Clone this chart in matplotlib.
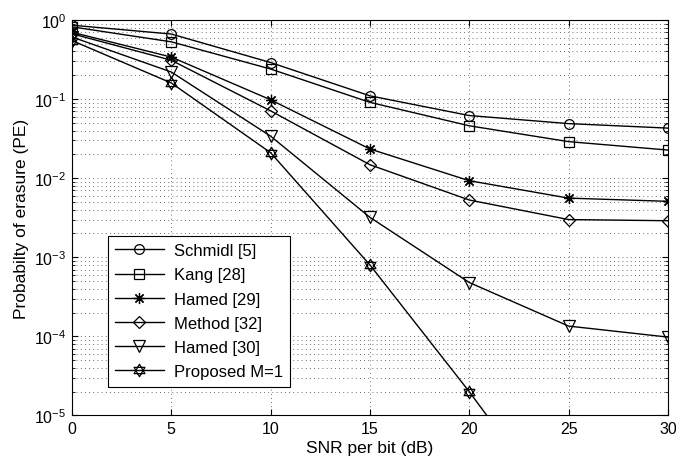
import matplotlib
matplotlib.use("Agg")
from matplotlib import pyplot as plt
from matplotlib.path import Path
from matplotlib.ticker import LogLocator, NullFormatter

snr_db = [0, 5, 10, 15, 20, 25, 30]

schmidl = [0.86, 0.665, 0.29, 0.11, 0.062, 0.049, 0.043]
kang = [0.82, 0.53, 0.24, 0.091, 0.046, 0.029, 0.0227]
hamed_29 = [0.70, 0.34, 0.098, 0.0234, 0.0093, 0.0056, 0.0051]
method_32 = [0.67, 0.31, 0.071, 0.0148, 0.0053, 0.0030, 0.0029]
hamed_30 = [0.61, 0.22, 0.034, 0.0032, 0.00048, 1.35e-4, 9.8e-5]
proposed = [0.55, 0.16, 0.021, 8.0e-4, 2.0e-5, 4.0e-7, 1.0e-8]

# star of david: two overlapping triangles
hexagram = Path(
    [(0, 1), (0.866, -0.5), (-0.866, -0.5), (0, 1),
     (0, -1), (0.866, 0.5), (-0.866, 0.5), (0, -1)],
    [Path.MOVETO, Path.LINETO, Path.LINETO, Path.CLOSEPOLY,
     Path.MOVETO, Path.LINETO, Path.LINETO, Path.CLOSEPOLY],
)

series = [
    ("Schmidl [5]", schmidl, "o", 7),
    ("Kang [28]", kang, "s", 7),
    ("Hamed [29]", hamed_29, (8, 2, 0), 8),
    ("Method [32]", method_32, "D", 6),
    ("Hamed [30]", hamed_30, "v", 8),
    ("Proposed M=1", proposed, hexagram, 9),
]

plt.rcParams["font.family"] = ["Liberation Sans", "DejaVu Sans"]
plt.rcParams["font.size"] = 11

fig = plt.figure(figsize=(6.76, 4.64), dpi=100)
ax = fig.add_axes([0.1065, 0.1024, 0.8815, 0.8523])

for label, values, marker, ms in series:
    ax.semilogy(snr_db, values, color="black", linewidth=1.0, marker=marker,
                markersize=ms, markerfacecolor="none", markeredgecolor="black",
                markeredgewidth=0.9, label=label)

ax.set_xlim(0, 30)
ax.set_ylim(1e-5, 1)
ax.set_xticks(snr_db)
ax.yaxis.set_major_locator(LogLocator(base=10, numticks=10))
ax.yaxis.set_minor_locator(LogLocator(base=10, subs=range(2, 10), numticks=20))
ax.yaxis.set_minor_formatter(NullFormatter())

grid_style = dict(linestyle=(0, (1, 4)), color="0.25", linewidth=0.6)
ax.grid(True, which="major", **grid_style)
ax.grid(True, which="minor", axis="y", **grid_style)
ax.tick_params(which="both", direction="in", top=True, right=True)
ax.tick_params(which="major", length=4, labelsize=11.5, pad=4)
ax.tick_params(which="minor", length=2)

ax.set_xlabel("SNR per bit (dB)", labelpad=3, fontsize=12.5)
ax.set_ylabel("Probabilty of erasure (PE)", labelpad=4, fontsize=12.5)

leg = ax.legend(loc="lower left", bbox_to_anchor=(0.046, 0.052), fancybox=False,
                framealpha=1, edgecolor="black", fontsize=12, handlelength=2.9,
                borderpad=0.45, labelspacing=0.55, handletextpad=0.6)
leg.get_frame().set_linewidth(0.8)

fig.savefig("out.png", dpi=100)
plt.close(fig)
